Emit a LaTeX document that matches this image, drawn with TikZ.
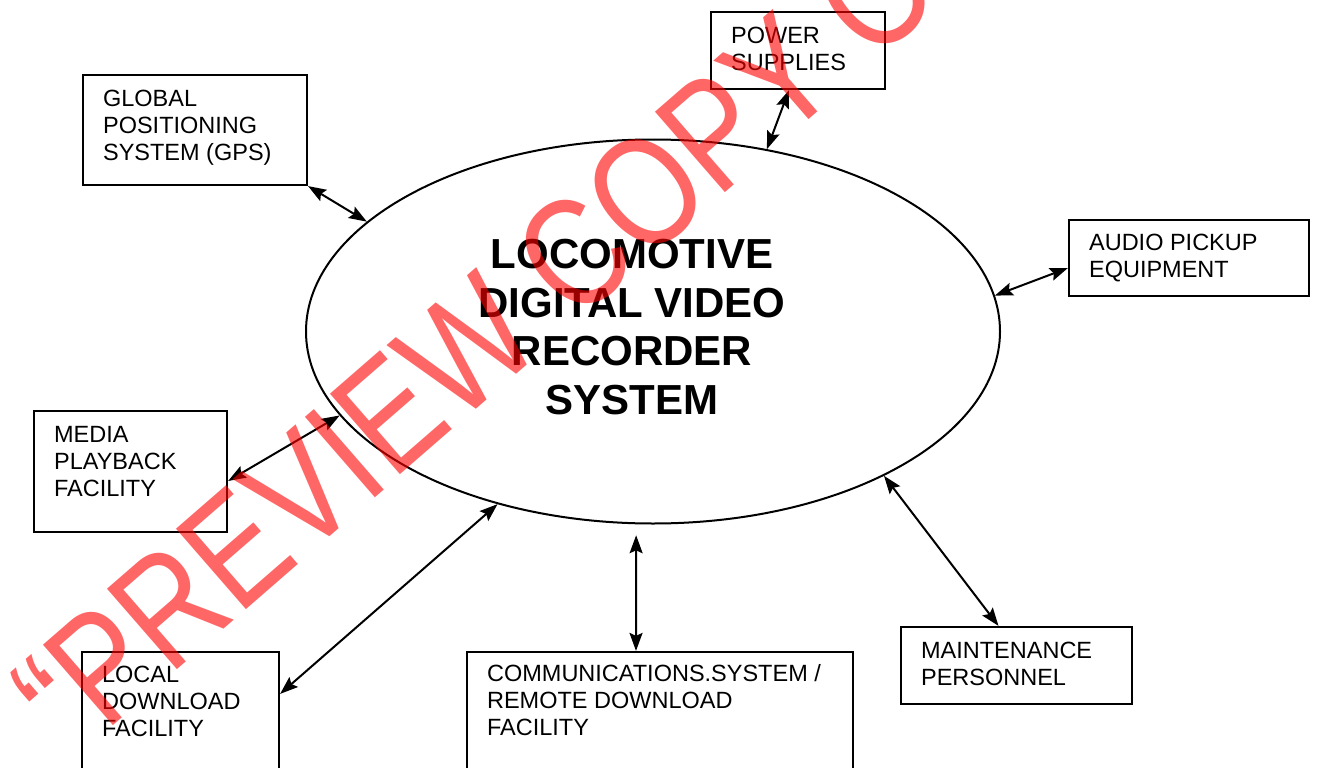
\documentclass[tikz,border=0pt]{standalone}
\usepackage{fontspec}
\setmainfont{Liberation Sans}
\usetikzlibrary{arrows.meta,shapes.geometric}
\begin{document}
\begin{tikzpicture}[x=1pt,y=-1pt,
  box/.style={draw, line width=2.2pt, rectangle, inner sep=0pt},
  lbl/.style={anchor=base west, align=left, inner sep=0pt, font=\fontsize{23.5}{27}\selectfont},
  link/.style={line width=2pt, {Stealth[length=18pt,width=13pt,inset=3pt]}-{Stealth[length=18pt,width=13pt,inset=3pt]}},
  wm/.style={font=\fontsize{155}{155}\selectfont, text=red, text opacity=0.6, inner sep=0pt}
]
\useasboundingbox (0,0) rectangle (1317,768);
\clip (0,0) rectangle (1317,768);
\fill[white] (0,0) rectangle (1317,768);

\node[draw, ellipse, line width=2pt, minimum width=694pt, minimum height=384pt, inner sep=0pt] (ell) at (653,331.5) {};
\node[font=\bfseries\fontsize{42}{48.5}\selectfont, align=center, inner sep=0pt] (title) at (632,327) {LOCOMOTIVE\\DIGITAL VIDEO\\RECORDER\\SYSTEM};

\node[box, minimum width=224pt, minimum height=110pt] (gps) at (195,130) {};
\node[lbl] (gpsT) at ([xshift=21pt,yshift=-87pt]gps.north west) {GLOBAL\\POSITIONING\\SYSTEM (GPS)};

\node[box, minimum width=174pt, minimum height=77pt] (power) at (798,50.5) {};
\node[lbl] (powerT) at ([xshift=21pt,yshift=-60pt]power.north west) {POWER\\SUPPLIES};

\node[box, minimum width=240pt, minimum height=76pt] (audio) at (1189,258) {};
\node[lbl] (audioT) at ([xshift=21pt,yshift=-59pt]audio.north west) {AUDIO PICKUP\\EQUIPMENT};

\node[box, minimum width=193pt, minimum height=121pt] (media) at (130.5,471.5) {};
\node[lbl] (mediaT) at ([xshift=21pt,yshift=-87pt]media.north west) {MEDIA\\PLAYBACK\\FACILITY};

\node[box, minimum width=197pt, minimum height=130pt] (local) at (180.5,717) {};
\node[lbl] (localT) at ([xshift=21pt,yshift=-86pt]local.north west) {LOCAL\\DOWNLOAD\\FACILITY};

\node[box, minimum width=386pt, minimum height=130pt] (comm) at (660,717) {};
\node[lbl] (commT) at ([xshift=21pt,yshift=-85pt]comm.north west) {COMMUNICATIONS.SYSTEM /\\REMOTE DOWNLOAD\\FACILITY};

\node[box, minimum width=231pt, minimum height=77pt] (maint) at (1016.5,665.5) {};
\node[lbl] (maintT) at ([xshift=21pt,yshift=-60pt]maint.north west) {MAINTENANCE\\PERSONNEL};

\draw[link] (gps.south east) -- (ell.159);
\draw[link] ([xshift=-9pt]power.south) -- (ell.58);
\draw[link] ([yshift=-10pt]audio.west) -- (ell.6);
\draw[link] ([yshift=-9.5pt]media.east) -- (ell.195);
\draw[link] ([yshift=-43pt]local.north east) -- (ell.228);
\draw[link, shorten >=11pt] ([xshift=-24pt]comm.north) -- (ell.265);
\draw[link] ([xshift=-18pt]maint.north) -- (ell.328);

\node[wm, rotate=41, anchor=base west] (wmark) at (73,760) {\scalebox{0.82}[1]{“PREVIEW COPY O}};
\end{tikzpicture}
\end{document}
